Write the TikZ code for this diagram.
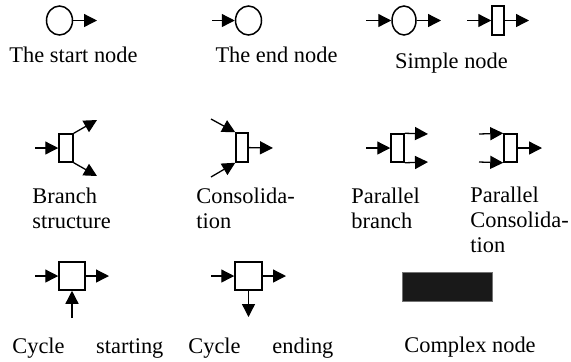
\documentclass[tikz,border=0pt]{standalone}
\usepackage{fontspec}
\setmainfont{Liberation Serif}
\usepackage{tikz}
\usetikzlibrary{arrows.meta, shapes.geometric}

\begin{document}
\begin{tikzpicture}[
    x=0.5pt, y=-0.5pt,
    >={Triangle[length=6.5pt, width=6.5pt]},
    flow/.style={->, line width=0.65pt},
    ev/.style={
      ellipse, draw, line width=0.75pt, inner sep=0pt,
      minimum width=13pt, minimum height=14.5pt
    },
    act/.style={
      rectangle, draw, line width=0.75pt, inner sep=0pt,
      minimum width=6pt, minimum height=14.5pt
    },
    lbl/.style={
      inner sep=0pt, font=\fontsize{11.2}{12.3}\selectfont
    }
  ]

  \useasboundingbox (0,0) rectangle (571,361);

  % row 1: start, end, simple nodes
  \node[ev] (st) at (59.5,20.5) {};
  \coordinate (stout) at (97,20.5);
  \draw[flow] (st) -- (stout);

  \node[ev] (en) at (248.5,20.5) {};
  \coordinate (enin) at (212,20.5);
  \draw[flow] (enin) -- (en);

  \node[ev, minimum width=12pt] (sm) at (404,20.5) {};
  \coordinate (smin) at (366,20.5);
  \coordinate (smout) at (441,20.5);
  \draw[flow] (smin) -- (sm);
  \draw[flow] (sm) -- (smout);

  \node[act] (sr) at (498,20.5) {};
  \coordinate (srin) at (467,20.5);
  \coordinate (srout) at (529,20.5);
  \draw[flow] (srin) -- (sr);
  \draw[flow] (sr) -- (srout);

  \node[lbl, anchor=base] (stlbl) at (73.5,62) {The start node};
  \node[lbl, anchor=base] (enlbl) at (276.5,62) {The end node};
  \node[lbl, anchor=base] (smlbl) at (451.5,68) {Simple node};

  % row 2: branching and consolidating
  \node[act, minimum width=7pt, minimum height=14pt] (br) at (66,148) {};
  \coordinate (brin) at (35,148);
  \coordinate (brup) at (97,120);
  \coordinate (brdn) at (97,176);
  \draw[flow] (brin) -- (br);
  \draw[flow] (br.north east) -- (brup);
  \draw[flow] (br.south east) -- (brdn);

  \node[act] (co) at (242,147.5) {};
  \coordinate (coup) at (211,119);
  \coordinate (codn) at (211,177);
  \coordinate (coout) at (273,148);
  \draw[flow] (coup) -- (co.north west);
  \draw[flow] (codn) -- (co.south west);
  \draw[flow] (co) -- (coout);

  \node[act, minimum width=6.5pt, minimum height=14pt] (pb) at (397.5,148) {};
  \coordinate (pbin) at (366,148);
  \coordinate (pbup) at (428,134);
  \coordinate (pbdn) at (428,162);
  \draw[flow] (pbin) -- (pb);
  \draw[flow] (pb.north east) -- (pbup);
  \draw[flow] (pb.south east) -- (pbdn);

  \node[act, minimum width=6.5pt, minimum height=14pt] (pc) at (510.5,148) {};
  \coordinate (pcup) at (479,134);
  \coordinate (pcdn) at (479,162);
  \coordinate (pcout) at (542,148);
  \draw[flow] (pcup) -- (pc.north west);
  \draw[flow] (pcdn) -- (pc.south west);
  \draw[flow] (pc) -- (pcout);

  % labels are anchored on the baseline of their last line
  \node[lbl, anchor=base west, align=left] (brlbl) at (32,228) {Branch\\structure};
  \node[lbl, anchor=base west, align=left] (colbl) at (196,228) {Consolida-\\tion};
  \node[lbl, anchor=base west, align=left] (pblbl) at (351,228) {Parallel\\branch};
  \node[lbl, anchor=base west, align=left] (pclbl) at (470,252) {Parallel\\Consolida-\\tion};

  % row 3: cycles and complex node
  \node[act, minimum width=13pt, minimum height=14pt] (cs) at (72,276) {};
  \coordinate (csin) at (35,276);
  \coordinate (csout) at (109,276);
  \coordinate (csup) at (72,318);
  \draw[flow] (csin) -- (cs);
  \draw[flow] (cs) -- (csout);
  \draw[flow] (csup) -- (cs);

  \node[act, minimum width=13.5pt, minimum height=14pt] (ce) at (248.5,276) {};
  \coordinate (cein) at (211,276);
  \coordinate (ceout) at (286,276);
  \coordinate (cedn) at (248.5,317);
  \draw[flow] (cein) -- (ce);
  \draw[flow] (ce) -- (ceout);
  \draw[flow] (ce) -- (cedn);

  \node[draw=black!55, fill=black!90, line width=0.5pt, inner sep=0pt,
        minimum width=45pt, minimum height=14.5pt] (cx) at (447,286.5) {};

  \node[lbl, anchor=base west, text width=75.5pt] (cslbl) at (12,353) {Cycle\hfill starting};
  \node[lbl, anchor=base west, text width=72.5pt] (celbl) at (188,353) {Cycle\hfill ending};
  \node[lbl, anchor=base] (cxlbl) at (470,352) {Complex node};

\end{tikzpicture}
\end{document}
